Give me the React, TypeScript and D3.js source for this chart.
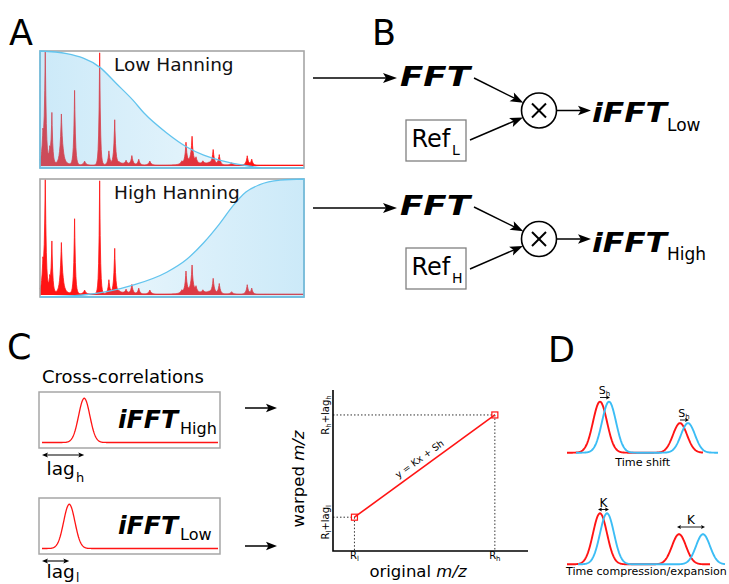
import React from 'react';
import * as d3 from 'd3';

const W = 729;
const H = 584;
const FONT = 'DejaVu Sans, Verdana, sans-serif';

// Mass spectrum peaks: relative position along the m/z range, relative intensity, spike half-width (px)
const peakPos = [0.011, 0.02, 0.037, 0.045, 0.081, 0.131, 0.169, 0.226, 0.261, 0.283, 0.326, 0.348, 0.374, 0.416, 0.537, 0.553, 0.576, 0.591, 0.617, 0.656, 0.679, 0.726, 0.785, 0.802, 0.018, 0.088, 0.57, 0.3, 0.64];
const peakHeight = [0.21, 0.96, 0.1, 0.43, 0.42, 0.65, 0.035, 0.98, 0.12, 0.385, 0.035, 0.08, 0.05, 0.035, 0.025, 0.18, 0.22, 0.05, 0.025, 0.125, 0.087, 0.02, 0.08, 0.05, 0.07, 0.04, 0.035, 0.025, 0.02];
const peakWidth = [1.2, 0.9, 1.1, 0.9, 1.3, 0.9, 1.5, 0.8, 1.1, 1.0, 1.5, 1.3, 1.3, 1.5, 1.6, 1.1, 1.1, 1.4, 1.6, 1.2, 1.2, 1.5, 1.2, 1.2, 4, 4, 6, 5, 6];

// Hanning window shapes (relative position, relative weight)
const lowWindow: [number, number][] = [[0, 1], [0.101, 0.977], [0.227, 0.86], [0.29, 0.72], [0.352, 0.58], [0.394, 0.47], [0.48, 0.3], [0.556, 0.18], [0.62, 0.11], [0.707, 0.052], [0.795, 0.015], [0.85, 0], [1, 0]];
const highWindow: [number, number][] = [[0, 0], [0.163, 0.017], [0.352, 0.1], [0.48, 0.21], [0.556, 0.32], [0.62, 0.46], [0.68, 0.62], [0.73, 0.77], [0.78, 0.89], [0.83, 0.95], [0.91, 0.99], [1, 1]];

// Cross-correlation peaks (lag units 0–100)
const lagHigh = 24;
const lagLow = 15.5;
const xcorrSigma = 3.2;

// Warping line: original vs warped m/z (axis units 0–100)
const originalMz = [11, 83];
const warpedMz = [21, 84.5];

// Panel D peaks (time units)
const shiftRedPos = [33, 113];
const shiftBluePos = [42, 121];
const shiftHeight = [1, 0.58];
const compRedPos = [33, 112];
const compBluePos = [40, 136];
const compHeight = [1, 0.59];
const dSigma = 7;

const RED = '#ff1414';
const BLUE = '#3cbdf5';

function Arrow({ x1, y1, x2, y2, len = 12, half = 4.5, sw = 1.5, both = false, color = '#000' }: any) {
  const a = Math.atan2(y2 - y1, x2 - x1);
  const deg = (a * 180) / Math.PI;
  const ux = Math.cos(a);
  const uy = Math.sin(a);
  const inset = len * 0.6;
  const sx = both ? x1 + ux * inset : x1;
  const sy = both ? y1 + uy * inset : y1;
  const head = `M0,0 L${-len},${-half} L${-len * 0.78},0 L${-len},${half} Z`;
  return (
    <g>
      <line x1={sx} y1={sy} x2={x2 - ux * inset} y2={y2 - uy * inset} stroke={color} strokeWidth={sw} />
      <path d={head} fill={color} transform={`translate(${x2},${y2}) rotate(${deg})`} />
      {both && <path d={head} fill={color} transform={`translate(${x1},${y1}) rotate(${deg + 180})`} />}
    </g>
  );
}

function intensity(p: number) {
  let s = 0;
  for (let i = 0; i < peakPos.length; i++) {
    s += peakHeight[i] * Math.exp(-Math.abs((p - peakPos[i]) * 264) / peakWidth[i]);
  }
  return Math.min(s + 0.008, 1);
}

function SpectrumBox({ top, bottom, windowPts, id, rising, label }: any) {
  const x = d3.scaleLinear().domain([0, 1]).range([40, 304]);
  const yS = d3.scaleLinear().domain([0, 1]).range([bottom - 2, top + 0.5]);
  const yW = d3.scaleLinear().domain([0, 1]).range([bottom, top]);
  const xs = Array.from(new Set([...d3.range(0, 1.0001, 0.002), ...peakPos])).sort((a, b) => a - b);
  const spec: [number, number][] = xs.map((p) => [p, intensity(p)]);
  const specArea = d3.area<[number, number]>().x((d) => x(d[0])).y0(yS(0)).y1((d) => yS(d[1]));
  const specLine = d3.line<[number, number]>().x((d) => x(d[0])).y((d) => yS(d[1]));
  const winArea = d3.area<[number, number]>().x((d) => x(d[0])).y0(yW(0)).y1((d) => yW(d[1])).curve(d3.curveMonotoneX);
  return (
    <g>
      <defs>
        <linearGradient id={id} gradientUnits="userSpaceOnUse" x1={40} x2={304} y1={0} y2={0}>
          <stop offset="0" stopColor="rgb(100,190,235)" stopOpacity={rising ? 0.08 : 0.33} />
          <stop offset="1" stopColor="rgb(100,190,235)" stopOpacity={rising ? 0.33 : 0.08} />
        </linearGradient>
      </defs>
      <rect x={40} y={top} width={264} height={bottom - top} fill="#fff" />
      <path d={specArea(spec) || ''} fill={RED} />
      <path d={specLine(spec) || ''} fill="none" stroke={RED} strokeWidth={0.8} />
      <path d={winArea(windowPts) || ''} fill={`url(#${id})`} />
      <rect x={40} y={top} width={264} height={bottom - top} fill="none" stroke="#a6a6a6" strokeWidth={1.6} />
      <path d={winArea(windowPts) || ''} fill="none" stroke="#62c4ee" strokeWidth={1.3} />
      <text x={114} y={top + 19.5} fontSize={18.5} fontFamily={FONT} fill="#111">{label}</text>
    </g>
  );
}

function gauss(center: number, sigma: number, h: number, t: number) {
  return h * Math.exp(-((t - center) ** 2) / (2 * sigma * sigma));
}

function XcorrBox({ top, lag, label }: any) {
  const x = d3.scaleLinear().domain([0, 100]).range([42, 218]);
  const y = d3.scaleLinear().domain([0, 1]).range([top + 50.5, top + 6.3]);
  const pts: [number, number][] = d3.range(0, 100.01, 0.25).map((t) => [t, gauss(lag, xcorrSigma, 1, t)]);
  const line = d3.line<[number, number]>().x((d) => x(d[0])).y((d) => y(d[1]));
  return (
    <g>
      <rect x={39} y={top} width={181} height={56} fill="#fff" stroke="#a6a6a6" strokeWidth={1.5} />
      <path d={line(pts) || ''} fill="none" stroke={RED} strokeWidth={1.3} />
      <text x={118} y={top + 36} fontSize={25} fontWeight="bold" fontStyle="italic" fontFamily={FONT} textLength={60} lengthAdjust="spacingAndGlyphs">iFFT</text>
      <text x={180} y={top + 42} fontSize={16} fontFamily={FONT}>{label}</text>
      <Arrow x1={x(0)} y1={top + 63} x2={x(lag)} y2={top + 63} len={6} half={2.6} sw={1.1} both />
    </g>
  );
}

function PeakPair({ redPos, bluePos, heights, base, redSpan, blueSpan }: any) {
  const x = d3.scaleLinear().domain([0, 160]).range([567, 727]);
  const y = d3.scaleLinear().domain([0, 1]).range([base, base - 51]);
  const curve = (pos: number[], span: number[]) =>
    d3.range(span[0], span[1] + 0.01, 0.5).map((t) => [t, pos.reduce((s, p, i) => s + gauss(p, dSigma, heights[i], t), 0)] as [number, number]);
  const line = d3.line<[number, number]>().x((d) => x(d[0])).y((d) => y(d[1]));
  return (
    <g>
      <path d={line(curve(redPos, redSpan)) || ''} fill="none" stroke={RED} strokeWidth={1.9} />
      <path d={line(curve(bluePos, blueSpan)) || ''} fill="none" stroke={BLUE} strokeWidth={1.9} />
    </g>
  );
}

export default function App() {
  // Panel C scatter scales
  const xM = d3.scaleLinear().domain([0, 100]).range([333, 528]);
  const yM = d3.scaleLinear().domain([0, 100]).range([551, 390]);
  const p0 = [xM(originalMz[0]), yM(warpedMz[0])];
  const p1 = [xM(originalMz[1]), yM(warpedMz[1])];
  const ang = (Math.atan2(p1[1] - p0[1], p1[0] - p0[0]) * 180) / Math.PI;
  const mid = [(p0[0] + p1[0]) / 2, (p0[1] + p1[1]) / 2];
  const rad = (ang * Math.PI) / 180;
  const lbl = [mid[0] + Math.sin(rad) * 5.5, mid[1] - Math.cos(rad) * 5.5];

  const xD = d3.scaleLinear().domain([0, 160]).range([567, 727]);

  const circles = [110.5, 239];
  const cx = 539;
  const r = 17.5;

  return (
    <svg width={W} height={H} style={{ position: 'absolute', left: 0, top: 0, display: 'block', background: '#fff' }} fontFamily={FONT}>
      <rect width={W} height={H} fill="#fff" />

      {/* Panel labels */}
      <text x={9} y={45} fontSize={35} fontFamily={FONT}>A</text>
      <text x={372} y={45} fontSize={35} fontFamily={FONT}>B</text>
      <text x={7} y={359} fontSize={35} fontFamily={FONT}>C</text>
      <text x={548} y={362} fontSize={35} fontFamily={FONT}>D</text>

      {/* Panel A */}
      <SpectrumBox top={51} bottom={168} windowPts={lowWindow} id="gLow" rising={false} label="Low Hanning" />
      <SpectrumBox top={179} bottom={297} windowPts={highWindow} id="gHigh" rising label="High Hanning" />

      {/* Panel B */}
      {[0, 1].map((k) => {
        const dy = k === 0 ? 0 : 129;
        const cy = circles[k];
        const fftY = 86 + dy;
        const refTop = 120 + (k === 0 ? 0 : 128);
        const inA = [474, 78 + dy];
        const inB = [470, 140 + dy];
        const tip = (p: number[]) => {
          const dxx = cx - p[0];
          const dyy = cy - p[1];
          const L = Math.hypot(dxx, dyy);
          return [cx - (dxx / L) * r, cy - (dyy / L) * r];
        };
        const tA = tip(inA);
        const tB = tip(inB);
        return (
          <g key={k}>
            <Arrow x1={313} y1={78 + (k === 0 ? 0 : 130)} x2={397} y2={78 + (k === 0 ? 0 : 130)} len={14} half={5} sw={1.6} />
            <text x={400} y={fftY} fontSize={27} fontWeight="bold" fontStyle="italic" fontFamily={FONT} textLength={70} lengthAdjust="spacingAndGlyphs">FFT</text>
            <rect x={406} y={refTop} width={60} height={41} fill="#fff" stroke="#808080" strokeWidth={1.3} />
            <text x={411.5} y={refTop + 26.5} fontSize={24} fontFamily={FONT}>Ref</text>
            <text x={452} y={refTop + 35} fontSize={14} fontFamily={FONT}>{k === 0 ? 'L' : 'H'}</text>
            <Arrow x1={inA[0]} y1={inA[1]} x2={tA[0]} y2={tA[1]} len={13} half={4.8} sw={1.5} />
            <Arrow x1={inB[0]} y1={inB[1]} x2={tB[0]} y2={tB[1]} len={13} half={4.8} sw={1.5} />
            <circle cx={cx} cy={cy} r={r} fill="#fff" stroke="#000" strokeWidth={1.6} />
            <line x1={cx - 7} y1={cy - 7} x2={cx + 7} y2={cy + 7} stroke="#000" strokeWidth={2} />
            <line x1={cx - 7} y1={cy + 7} x2={cx + 7} y2={cy - 7} stroke="#000" strokeWidth={2} />
            <Arrow x1={cx + r} y1={cy} x2={591} y2={cy} len={13} half={4.8} sw={1.5} />
            <text x={592} y={k === 0 ? 122 : 252} fontSize={27} fontWeight="bold" fontStyle="italic" fontFamily={FONT} textLength={75} lengthAdjust="spacingAndGlyphs">iFFT</text>
            <text x={667} y={k === 0 ? 131 : 260} fontSize={17} fontFamily={FONT}>{k === 0 ? 'Low' : 'High'}</text>
          </g>
        );
      })}

      {/* Panel C: cross-correlations */}
      <text x={42} y={383} fontSize={18} fontFamily={FONT}>Cross-correlations</text>
      <XcorrBox top={392} lag={lagHigh} label="High" />
      <XcorrBox top={498} lag={lagLow} label="Low" />
      <text x={46.5} y={475} fontSize={18.5} fontFamily={FONT}>lag</text>
      <text x={76} y={482} fontSize={13} fontFamily={FONT}>h</text>
      <text x={46.5} y={578} fontSize={18.5} fontFamily={FONT}>lag</text>
      <text x={76} y={582} fontSize={12} fontFamily={FONT}>l</text>
      <Arrow x1={245} y1={408} x2={277} y2={408} len={11} half={4.2} sw={1.5} />
      <Arrow x1={245} y1={546} x2={277} y2={546} len={11} half={4.2} sw={1.5} />

      {/* Panel C: warping function */}
      <line x1={xM(0)} y1={p1[1]} x2={p1[0]} y2={p1[1]} stroke="#333" strokeWidth={1} strokeDasharray="1.5,2" />
      <line x1={p1[0]} y1={p1[1]} x2={p1[0]} y2={yM(0)} stroke="#333" strokeWidth={1} strokeDasharray="1.5,2" />
      <line x1={xM(0)} y1={p0[1]} x2={p0[0]} y2={p0[1]} stroke="#333" strokeWidth={1} strokeDasharray="1.5,2" />
      <line x1={p0[0]} y1={p0[1]} x2={p0[0]} y2={yM(0)} stroke="#333" strokeWidth={1} strokeDasharray="1.5,2" />
      <path d={`M${xM(0)},${yM(100)} V${yM(0)} H${xM(100)}`} fill="none" stroke="#000" strokeWidth={1.6} />
      <line x1={p0[0]} y1={p0[1]} x2={p1[0]} y2={p1[1]} stroke={RED} strokeWidth={1.6} />
      {[p0, p1].map((p, i) => (
        <rect key={i} x={p[0] - 3} y={p[1] - 3} width={6} height={6} fill="none" stroke={RED} strokeWidth={1.2} />
      ))}
      <text transform={`translate(${lbl[0]},${lbl[1]}) rotate(${ang})`} textAnchor="middle" fontSize={9.5} fontFamily={FONT}>y = Kx + Sh</text>
      <text x={p0[0]} y={559} textAnchor="middle" fontSize={10} fontFamily={FONT}>R<tspan fontSize={7} dy={2}>l</tspan></text>
      <text x={p1[0]} y={559} textAnchor="middle" fontSize={10} fontFamily={FONT}>R<tspan fontSize={7} dy={2}>h</tspan></text>
      <text transform={`translate(329,${p1[1]}) rotate(-90)`} textAnchor="middle" fontSize={10} fontFamily={FONT}>
        R<tspan fontSize={7} dy={2}>h</tspan><tspan dy={-2}>+lag</tspan><tspan fontSize={7} dy={2}>h</tspan>
      </text>
      <text transform={`translate(329,${p0[1] + 5})rotate(-90)`} textAnchor="middle" fontSize={10} fontFamily={FONT}>
        R<tspan fontSize={7} dy={2}>l</tspan><tspan dy={-2}>+lag</tspan><tspan fontSize={7} dy={2}>l</tspan>
      </text>
      <text x={418} y={577} textAnchor="middle" fontSize={16.5} fontFamily={FONT}>original <tspan fontStyle="italic">m/z</tspan></text>
      <text transform="translate(304,479) rotate(-90)" textAnchor="middle" fontSize={16.5} fontFamily={FONT}>warped <tspan fontStyle="italic">m/z</tspan></text>

      {/* Panel D */}
      <PeakPair redPos={shiftRedPos} bluePos={shiftBluePos} heights={shiftHeight} base={452.7} redSpan={[0, 136]} blueSpan={[9, 151]} />
      <PeakPair redPos={compRedPos} bluePos={compBluePos} heights={compHeight} base={564.3} redSpan={[0, 143]} blueSpan={[11, 158]} />
      {[0, 1].map((i) => {
        const cxs = (xD(shiftRedPos[i]) + xD(shiftBluePos[i])) / 2;
        const by = i === 0 ? 394 : 416.5;
        return (
          <g key={`s${i}`}>
            <text x={cxs} y={by} textAnchor="middle" fontSize={11} fontFamily={FONT}>S<tspan fontSize={7} dy={2}>h</tspan></text>
            <Arrow x1={xD(shiftRedPos[i])} y1={by + 3.5} x2={xD(shiftBluePos[i]) + 1} y2={by + 3.5} len={4} half={2} sw={0.9} />
          </g>
        );
      })}
      {[0, 1].map((i) => {
        const a0 = xD(compRedPos[i]) - 2;
        const a1 = xD(compBluePos[i]) + 2;
        const by = i === 0 ? 506.5 : 524;
        return (
          <g key={`k${i}`}>
            <text x={(a0 + a1) / 2} y={by} textAnchor="middle" fontSize={12} fontFamily={FONT}>K</text>
            <Arrow x1={a0} y1={by + 3} x2={a1} y2={by + 3} len={4} half={2} sw={0.9} both />
          </g>
        );
      })}
      <text x={642.7} y={465.7} textAnchor="middle" fontSize={11.2} fontFamily={FONT}>Time shift</text>
      <text x={566} y={575} fontSize={11.05} fontFamily={FONT}>Time compression/expansion</text>
    </svg>
  );
}
